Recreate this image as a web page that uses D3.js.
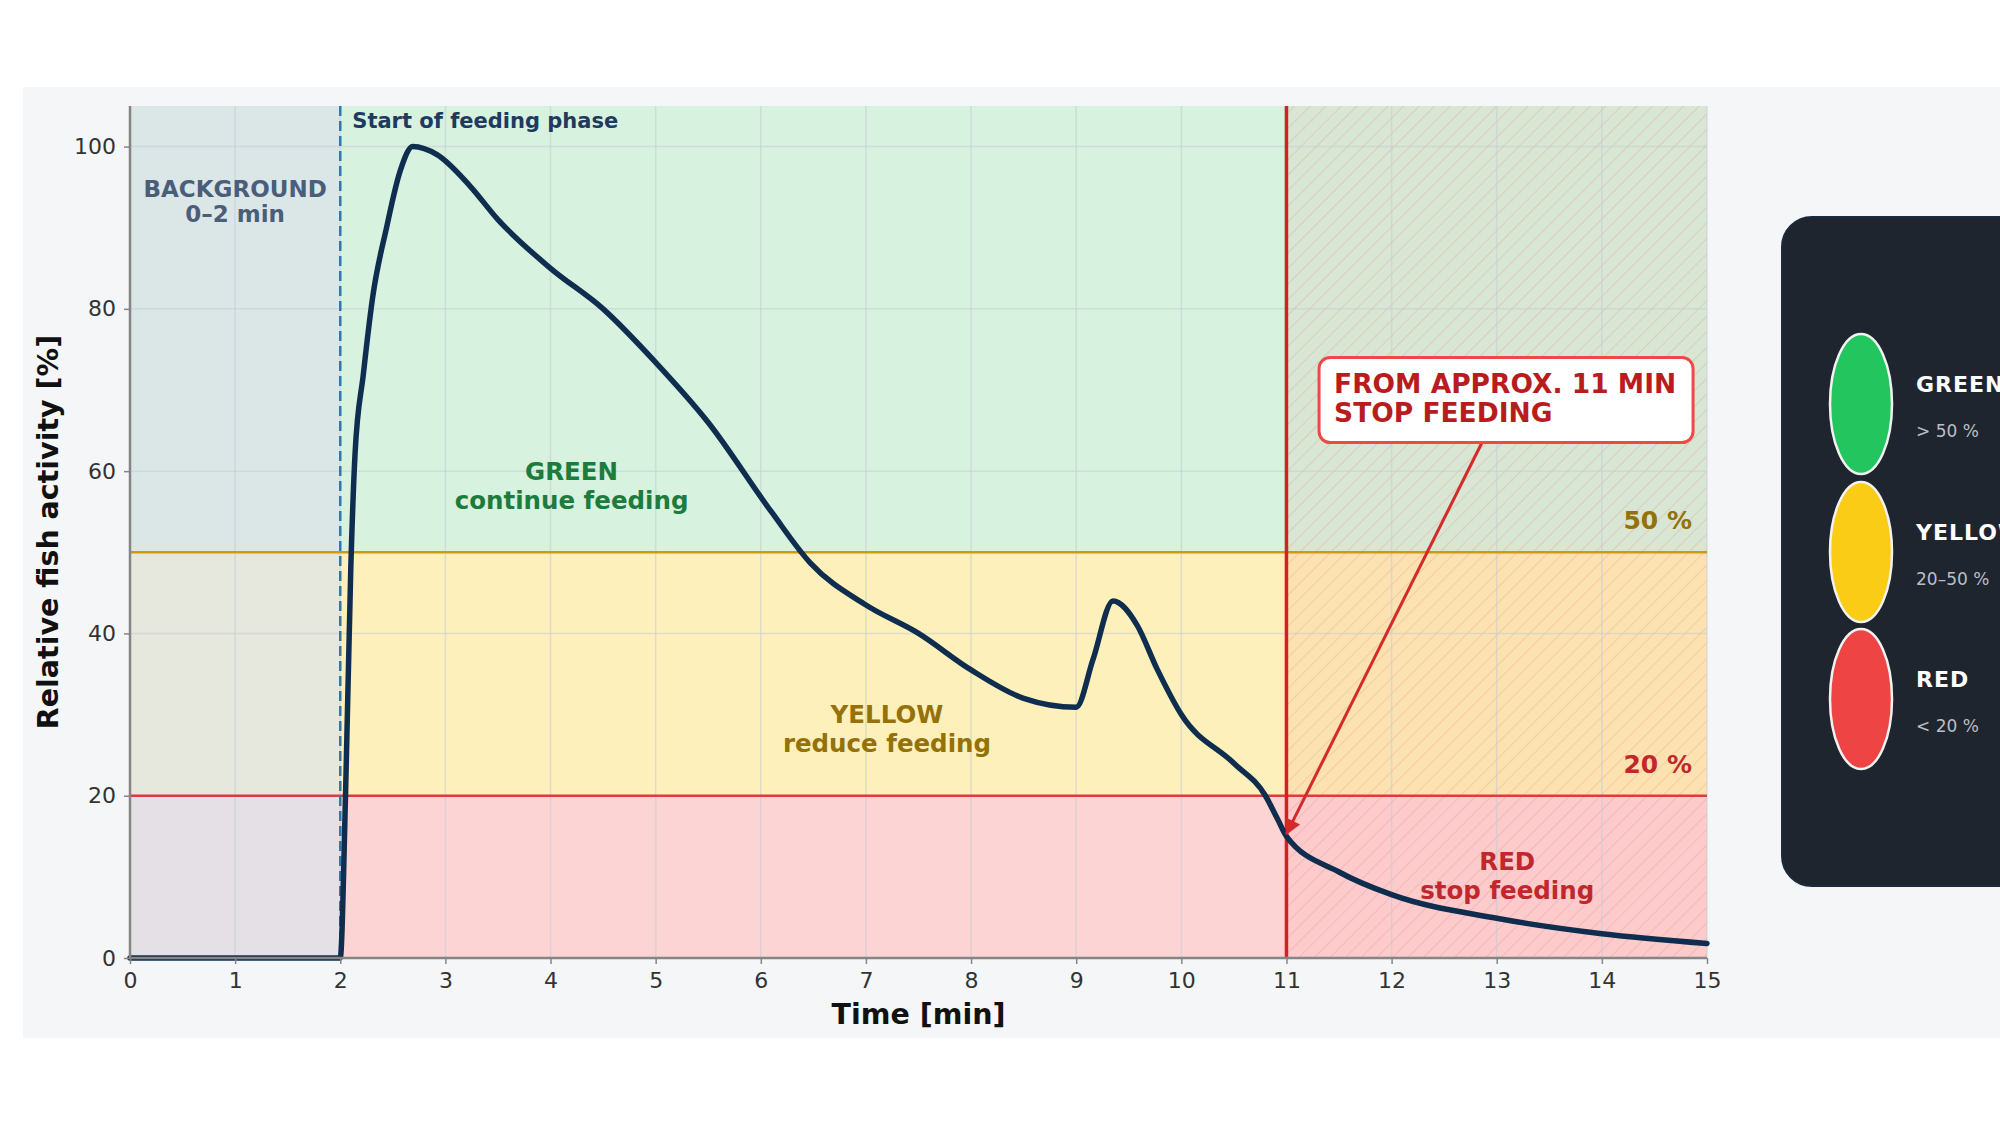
<!DOCTYPE html>
<html>
<head>
<meta charset="utf-8">
<script src="https://d3js.org/d3.v7.min.js"></script>
<style>
  body { margin: 0; background: #ffffff; }
  svg { display: block; font-family: "DejaVu Sans", sans-serif; }
</style>
</head>
<body>
<div id="chart"></div>
<script>
// Curve (time in min, activity in %)
var time     = [0, 1, 2.0, 2.05, 2.10, 2.14, 2.22, 2.31, 2.44, 2.57, 2.69, 2.92, 3.23, 3.5, 4.0, 4.5, 5.0, 5.5, 6.1, 6.47, 7.0, 7.5, 8.0, 8.5, 9.0, 9.16, 9.35, 9.58, 9.77, 10.0, 10.5, 10.8, 10.92, 11.0, 11.5, 12, 13, 14, 15];
var activity = [0, 0, 0,   20,   48,   62,   72,   81.6, 90,   97,   100,  99,   95.2, 91,  85,  80,  73.4, 66,  55,  48.7, 43.5, 40, 35.5, 32,  30.9, 36.8, 44,  41,   35.6, 30,   24,   20,   17,    15,   10.6, 7.8, 4.9, 3.0, 1.8];

var xTicks = [0, 1, 2, 3, 4, 5, 6, 7, 8, 9, 10, 11, 12, 13, 14, 15];
var yTicks = [0, 20, 40, 60, 80, 100];

var thresholds = [50, 20];
var thresholdLabels = ["50 %", "20 %"];

var bandLimits = [[50, 105], [20, 50], [0, 20]];   // green, yellow, red
var phaseLimits = [[0, 2], [2, 11], [11, 15]];     // background, feeding, stop

var feedStart = 2;
var stopAt = 11;

var zoneTitles = ["BACKGROUND", "GREEN", "YELLOW", "RED"];
var zoneSubtitles = ["0–2 min", "continue feeding", "reduce feeding", "stop feeding"];
var zoneX = [1, 4.2, 7.2, 13.1];
var zoneY = [93.8, 58.9, 28.9, 10.9];

var legendTitles = ["GREEN", "YELLOW", "RED"];
var legendRanges = ["> 50 %", "20–50 %", "< 20 %"];

var calloutLines = ["FROM APPROX. 11 MIN", "STOP FEEDING"];
var calloutTarget = [11, 15.3];

// GLOBAL CONFIGS
var W = 2000, H = 1125;
var pL = 130, pR = 1707, pT = 106, pB = 958;

// band fills per phase: [background, feeding, stop][green, yellow, red]
var bandFill = [
  ["#dbe6e7", "#e6e7dd", "#e4e0e5"],
  ["#d7f2df", "#fef0bb", "#fdd4d4"],
  ["#d9e6d4", "#fde2b1", "#fdcbcb"]
];
var zoneColors = ["#4b5e79", "#1e7b3e", "#957109", "#c0282d"];
var zoneFont = [23, 24.5, 24.5, 24.5];
var thresholdColors = ["#d19a0e", "#dc3c3c"];
var thresholdText = ["#957109", "#c0282d"];
var legendFill = ["#22c55e", "#facc15", "#ef4444"];

var x = d3.scaleLinear().domain([0, 15]).range([pL, pR]);
var y = d3.scaleLinear().domain([0, 105]).range([pB, pT]);

var svg = d3.select("#chart").append("svg")
  .attr("width", W)
  .attr("height", H);

// hatch for the stop phase
var defs = svg.append("defs");
defs.append("pattern")
  .attr("id", "hatch")
  .attr("patternUnits", "userSpaceOnUse")
  .attr("width", 11)
  .attr("height", 11)
  .attr("patternTransform", "rotate(45)")
  .append("line")
  .attr("x1", 0).attr("y1", 0)
  .attr("x2", 0).attr("y2", 11)
  .attr("stroke", "#c8503c")
  .attr("stroke-opacity", 0.16)
  .attr("stroke-width", 2);

defs.append("marker")
  .attr("id", "arrowHead")
  .attr("viewBox", "0 0 10 10")
  .attr("refX", 9)
  .attr("refY", 5)
  .attr("markerUnits", "userSpaceOnUse")
  .attr("markerWidth", 22)
  .attr("markerHeight", 16)
  .attr("orient", "auto")
  .append("path")
  .attr("d", "M 0 0 L 10 5 L 0 10 z")
  .attr("fill", "#d42a2a");

// panel
svg.append("rect")
  .attr("x", 23).attr("y", 87)
  .attr("width", W - 23).attr("height", 1038 - 87)
  .attr("fill", "#f4f6f8");

// zone rects
var cells = [];
phaseLimits.forEach(function(p, i) {
  bandLimits.forEach(function(b, j) {
    cells.push({ x0: p[0], x1: p[1], y0: b[0], y1: b[1], fill: bandFill[i][j] });
  });
});

svg.selectAll("rect.zone")
  .data(cells)
  .enter()
  .append("rect")
  .attr("class", "zone")
  .attr("x", function(d) { return x(d.x0); })
  .attr("y", function(d) { return y(d.y1); })
  .attr("width", function(d) { return x(d.x1) - x(d.x0); })
  .attr("height", function(d) { return y(d.y0) - y(d.y1); })
  .attr("fill", function(d) { return d.fill; });

svg.append("rect")
  .attr("x", x(stopAt))
  .attr("y", y(105))
  .attr("width", x(15) - x(stopAt))
  .attr("height", y(0) - y(105))
  .attr("fill", "url(#hatch)");

// grid
svg.append("g")
  .selectAll("line")
  .data(xTicks)
  .enter()
  .append("line")
  .attr("x1", function(d) { return x(d); })
  .attr("x2", function(d) { return x(d); })
  .attr("y1", y(105))
  .attr("y2", y(0))
  .attr("stroke", "#c4ccd6")
  .attr("stroke-opacity", 0.55)
  .attr("stroke-width", 1.5);

svg.append("g")
  .selectAll("line")
  .data(yTicks)
  .enter()
  .append("line")
  .attr("x1", x(0))
  .attr("x2", x(15))
  .attr("y1", function(d) { return y(d); })
  .attr("y2", function(d) { return y(d); })
  .attr("stroke", "#c4ccd6")
  .attr("stroke-opacity", 0.55)
  .attr("stroke-width", 1.5);

// threshold lines
svg.selectAll("line.thr")
  .data(thresholds)
  .enter()
  .append("line")
  .attr("class", "thr")
  .attr("x1", x(0))
  .attr("x2", x(15))
  .attr("y1", function(d) { return y(d); })
  .attr("y2", function(d) { return y(d); })
  .attr("stroke", function(d, i) { return thresholdColors[i]; })
  .attr("stroke-width", 2.5);

svg.selectAll("text.thr")
  .data(thresholds)
  .enter()
  .append("text")
  .attr("class", "thr")
  .attr("x", x(15) - 15)
  .attr("y", function(d) { return y(d) - 23; })
  .attr("text-anchor", "end")
  .attr("font-size", 25)
  .attr("font-weight", "bold")
  .attr("fill", function(d, i) { return thresholdText[i]; })
  .text(function(d, i) { return thresholdLabels[i]; });

// feeding start (dashed) and stop line
svg.append("line")
  .attr("x1", x(feedStart)).attr("x2", x(feedStart))
  .attr("y1", y(105)).attr("y2", y(0))
  .attr("stroke", "#2f78a8")
  .attr("stroke-width", 2.5)
  .attr("stroke-dasharray", "10,5");

svg.append("text")
  .attr("x", x(feedStart) + 12)
  .attr("y", 128)
  .attr("font-size", 21)
  .attr("font-weight", "bold")
  .attr("fill", "#1e3a5f")
  .text("Start of feeding phase");

svg.append("line")
  .attr("x1", x(stopAt)).attr("x2", x(stopAt))
  .attr("y1", y(105)).attr("y2", y(0))
  .attr("stroke", "#d42020")
  .attr("stroke-width", 3.5);

// zone labels
var zl = svg.selectAll("text.zone")
  .data(zoneTitles)
  .enter()
  .append("text")
  .attr("class", "zone")
  .attr("text-anchor", "middle")
  .attr("font-size", function(d, i) { return zoneFont[i]; })
  .attr("font-weight", "bold")
  .attr("fill", function(d, i) { return zoneColors[i]; });
zl.append("tspan")
  .attr("x", function(d, i) { return x(zoneX[i]); })
  .attr("y", function(d, i) { return y(zoneY[i]); })
  .text(function(d) { return d; });
zl.append("tspan")
  .attr("x", function(d, i) { return x(zoneX[i]); })
  .attr("y", function(d, i) { return y(zoneY[i]) + (i == 0 ? 25 : 29); })
  .text(function(d, i) { return zoneSubtitles[i]; });

// activity curve
var pts = time.map(function(t, i) { return [t, activity[i]]; });
var line = d3.line()
  .x(function(d) { return x(d[0]); })
  .y(function(d) { return y(d[1]); })
  .curve(d3.curveMonotoneX);

svg.append("path")
  .datum(pts)
  .attr("d", line)
  .attr("fill", "none")
  .attr("stroke", "#0f2e4f")
  .attr("stroke-width", 5.5)
  .attr("stroke-linejoin", "round")
  .attr("stroke-linecap", "round");

// axes
var xAxis = svg.append("g")
  .attr("transform", "translate(0," + y(0) + ")")
  .call(d3.axisBottom(x).tickValues(xTicks).tickSize(6).tickPadding(8));
var yAxis = svg.append("g")
  .attr("transform", "translate(" + x(0) + ",0)")
  .call(d3.axisLeft(y).tickValues(yTicks).tickSize(6).tickPadding(8));

[xAxis, yAxis].forEach(function(a) {
  a.select(".domain").attr("stroke", "#858585").attr("stroke-width", 2.5);
  a.selectAll(".tick line").attr("stroke", "#858585").attr("stroke-width", 1.5);
  a.selectAll(".tick text")
    .attr("font-family", "DejaVu Sans, sans-serif")
    .attr("font-size", 22)
    .attr("fill", "#333333");
});
xAxis.select(".domain").attr("d", "M" + x(0) + ",0H" + x(15));
yAxis.select(".domain").attr("d", "M0," + y(0) + "V" + y(105));

svg.append("text")
  .attr("x", (pL + pR) / 2)
  .attr("y", 1024)
  .attr("text-anchor", "middle")
  .attr("font-size", 28.5)
  .attr("font-weight", "bold")
  .attr("fill", "#111111")
  .text("Time [min]");

svg.append("text")
  .attr("transform", "translate(58," + (pT + pB) / 2 + ") rotate(-90)")
  .attr("text-anchor", "middle")
  .attr("font-size", 28.5)
  .attr("font-weight", "bold")
  .attr("fill", "#111111")
  .text("Relative fish activity [%]");

// callout box + arrow
var bx = x(11.31), by = y(74), bw = 374, bh = 85;
svg.append("line")
  .attr("x1", x(12.86)).attr("y1", by + bh)
  .attr("x2", x(calloutTarget[0])).attr("y2", y(calloutTarget[1]))
  .attr("stroke", "#d42a2a")
  .attr("stroke-width", 3)
  .attr("marker-end", "url(#arrowHead)");

svg.append("rect")
  .attr("x", bx).attr("y", by)
  .attr("width", bw).attr("height", bh)
  .attr("rx", 11)
  .attr("fill", "#ffffff")
  .attr("stroke", "#ef4848")
  .attr("stroke-width", 3);

svg.append("g")
  .selectAll("text")
  .data(calloutLines)
  .enter()
  .append("text")
  .attr("x", bx + 15)
  .attr("y", function(d, i) { return by + 35 + i * 29; })
  .attr("font-size", 26.5)
  .attr("font-weight", "bold")
  .attr("fill", "#b91c1c")
  .text(function(d) { return d; });

// traffic light legend
svg.append("rect")
  .attr("x", 1782).attr("y", 217)
  .attr("width", 280).attr("height", 669)
  .attr("rx", 30)
  .attr("fill", "#1f252e")
  .attr("stroke", "#1b2a3d")
  .attr("stroke-width", 2);

var lampY = [404, 552, 699];
var lg = svg.selectAll("g.lamp")
  .data(legendTitles)
  .enter()
  .append("g")
  .attr("class", "lamp")
  .attr("transform", function(d, i) { return "translate(1861," + lampY[i] + ")"; });

lg.append("ellipse")
  .attr("rx", 31)
  .attr("ry", 70)
  .attr("fill", function(d, i) { return legendFill[i]; })
  .attr("stroke", "#f2f2f2")
  .attr("stroke-width", 2.5);

lg.append("text")
  .attr("x", 55)
  .attr("y", -12)
  .attr("font-size", 22)
  .attr("font-weight", "bold")
  .attr("letter-spacing", 1)
  .attr("fill", "#ffffff")
  .text(function(d) { return d; });

lg.append("text")
  .attr("x", 55)
  .attr("y", 33)
  .attr("font-size", 17)
  .attr("fill", "#b9bfc7")
  .text(function(d, i) { return legendRanges[i]; });
</script>
</body>
</html>
